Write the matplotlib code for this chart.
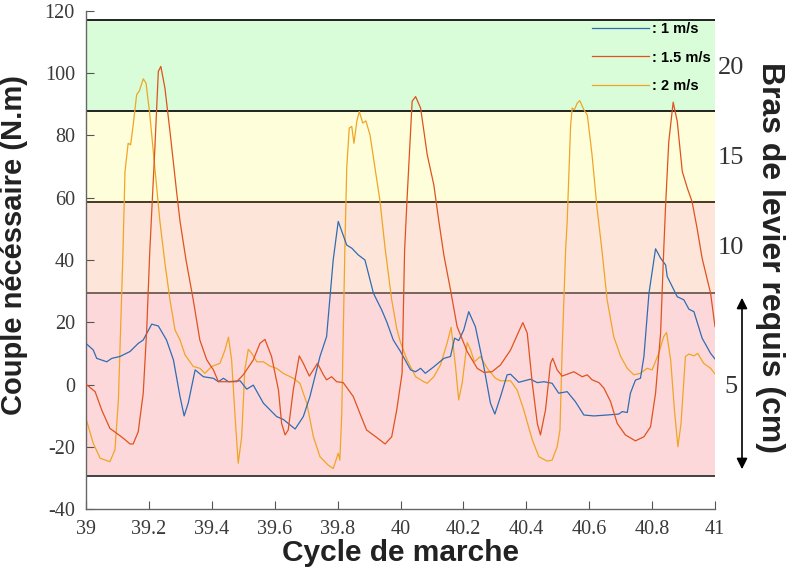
import matplotlib.pyplot as plt
from matplotlib.ticker import FixedLocator

# couple nécessaire sur deux cycles de marche, trois vitesses
x_1 = [39.000, 39.023, 39.034, 39.066, 39.082, 39.108, 39.140, 39.166, 39.182, 39.209,
       39.230, 39.256, 39.278, 39.299, 39.312, 39.325, 39.347, 39.373, 39.405, 39.421,
       39.437, 39.453, 39.490, 39.511, 39.532, 39.564, 39.606, 39.627, 39.665, 39.691,
       39.712, 39.744, 39.765, 39.786, 39.802, 39.829, 39.845, 39.866, 39.887, 39.914,
       39.940, 39.956, 39.977, 40.000, 40.032, 40.048, 40.064, 40.079, 40.106, 40.138,
       40.159, 40.172, 40.185, 40.201, 40.217, 40.238, 40.265, 40.286, 40.300, 40.318,
       40.339, 40.350, 40.376, 40.413, 40.435, 40.456, 40.482, 40.503, 40.530, 40.556,
       40.583, 40.615, 40.657, 40.694, 40.705, 40.721, 40.731, 40.747, 40.763, 40.774,
       40.790, 40.811, 40.827, 40.843, 40.848, 40.880, 40.901, 40.917, 40.933, 40.959,
       40.986, 41.000]
y_1 = [13.2, 11.1, 8.4, 7.3, 8.4, 9.0, 10.6, 13.2, 14.3, 19.4,
       18.8, 14.3, 7.9, -3.9, -10.1, -6.0, 4.7, 2.5, 2.0, 0.9,
       2.0, 0.9, 1.2, -1.5, -0.2, -6.0, -10.3, -11.2, -14.3, -10.3,
       -3.9, 9.0, 15.4, 40.0, 52.4, 44.8, 43.8, 41.6, 40.0, 29.3,
       24.0, 20.2, 14.3, 10.6, 4.7, 4.1, 5.2, 3.6, 5.7, 8.4,
       9.0, 14.9, 14.1, 17.5, 23.4, 18.6, 5.7, -6.0, -9.5, -3.9,
       3.1, 3.3, 0.7, 1.7, 0.6, 0.9, 0.4, -2.8, -2.3, -5.5,
       -9.8, -10.1, -9.8, -9.5, -8.7, -9.0, -2.8, 1.4, 2.0, 9.0,
       29.3, 43.6, 40.6, 38.4, 34.7, 28.2, 27.2, 24.2, 23.4, 14.9,
       10.0, 8.2]

x_15 = [39.000, 39.029, 39.050, 39.076, 39.098, 39.119, 39.140, 39.150, 39.166, 39.182,
        39.193, 39.203, 39.219, 39.230, 39.238, 39.251, 39.267, 39.288, 39.299, 39.318,
        39.341, 39.362, 39.384, 39.405, 39.421, 39.447, 39.479, 39.500, 39.532, 39.553,
        39.569, 39.590, 39.612, 39.622, 39.633, 39.643, 39.659, 39.678, 39.691, 39.710,
        39.723, 39.736, 39.755, 39.765, 39.781, 39.797, 39.818, 39.850, 39.871, 39.892,
        39.924, 39.951, 39.972, 39.988, 40.005, 40.013, 40.021, 40.037, 40.048, 40.064,
        40.085, 40.106, 40.122, 40.138, 40.159, 40.180, 40.212, 40.244, 40.265, 40.291,
        40.318, 40.350, 40.376, 40.389, 40.403, 40.419, 40.435, 40.445, 40.461, 40.477,
        40.484, 40.498, 40.514, 40.551, 40.578, 40.594, 40.609, 40.631, 40.647, 40.668,
        40.689, 40.715, 40.747, 40.774, 40.795, 40.811, 40.827, 40.837, 40.843, 40.853,
        40.867, 40.880, 40.896, 40.912, 40.927, 40.943, 40.959, 40.986, 41.000]
y_15 = [0.1, -2.3, -8.2, -14.1, -15.7, -17.3, -19.1, -19.1, -15.2, -2.8,
        17.5, 43.2, 76.0, 100.6, 102.2, 95.2, 81.3, 62.0, 52.4, 40.0,
        27.2, 14.3, 7.9, 4.7, 0.9, 0.9, 0.9, 3.1, 7.9, 13.2,
        14.5, 9.0, -1.8, -12.5, -16.2, -14.6, -1.8, 9.2, 6.8, 2.7,
        4.7, 6.8, 3.1, 1.5, 2.5, 0.9, 0.6, -3.9, -9.3, -14.6,
        -17.0, -19.1, -16.8, -8.2, 3.6, 43.0, 59.9, 91.0, 92.5, 88.8,
        73.8, 64.1, 52.4, 41.5, 30.4, 18.6, 10.6, 5.2, 3.9, 4.1,
        6.3, 11.1, 17.0, 19.9, 16.5, 0.4, -12.5, -16.2, -8.2, 6.8,
        8.4, 4.7, 2.7, 4.1, 2.5, 3.1, 1.5, 0.6, -1.2, -5.5,
        -12.5, -16.2, -18.1, -16.8, -13.6, -2.8, 16.5, 43.2, 57.7, 78.0,
        90.7, 84.5, 68.4, 63.1, 58.8, 50.2, 40.6, 29.3, 18.6]

x_2 = [39.000, 39.023, 39.045, 39.076, 39.092, 39.103, 39.117, 39.124, 39.134, 39.142,
       39.150, 39.161, 39.170, 39.182, 39.191, 39.203, 39.219, 39.235, 39.251, 39.267,
       39.283, 39.299, 39.315, 39.341, 39.362, 39.378, 39.400, 39.426, 39.442, 39.453,
       39.463, 39.474, 39.484, 39.495, 39.505, 39.516, 39.527, 39.543, 39.564, 39.585,
       39.606, 39.627, 39.659, 39.680, 39.702, 39.723, 39.744, 39.770, 39.786, 39.802,
       39.807, 39.813, 39.823, 39.829, 39.837, 39.845, 39.852, 39.861, 39.869, 39.880,
       39.890, 39.903, 39.919, 39.935, 39.951, 39.972, 39.988, 40.000, 40.021, 40.048,
       40.074, 40.085, 40.106, 40.127, 40.148, 40.161, 40.175, 40.185, 40.196, 40.212,
       40.223, 40.235, 40.254, 40.276, 40.302, 40.318, 40.350, 40.371, 40.392, 40.419,
       40.440, 40.466, 40.482, 40.498, 40.507, 40.514, 40.525, 40.530, 40.541, 40.546,
       40.553, 40.562, 40.570, 40.583, 40.594, 40.609, 40.625, 40.641, 40.657, 40.678,
       40.700, 40.721, 40.742, 40.763, 40.784, 40.800, 40.821, 40.837, 40.846, 40.859,
       40.871, 40.882, 40.892, 40.906, 40.917, 40.933, 40.945, 40.964, 40.986, 41.000]
y_2 = [-10.9, -18.9, -23.7, -24.8, -21.0, -5.0, 40.6, 68.4, 77.5, 77.0,
       83.4, 93.1, 94.4, 98.2, 96.8, 86.6, 69.5, 52.4, 39.0, 27.2,
       17.5, 14.3, 9.5, 5.8, 5.2, 3.6, 5.8, 6.8, 11.1, 15.2,
       7.9, -10.3, -25.3, -16.8, 4.7, 11.3, 10.0, 7.3, 7.3, 5.9,
       5.2, 3.6, 2.0, 0.4, -6.0, -16.8, -23.2, -25.9, -27.0, -22.1,
       -24.3, -10.3, 43.2, 69.5, 82.4, 82.9, 77.5, 84.5, 87.7, 84.0,
       84.7, 80.2, 69.5, 58.8, 43.8, 27.2, 18.0, 13.5, 7.9, 2.5,
       0.9, 0.4, 2.5, 6.3, 13.2, 18.4, 5.7, -5.0, 0.4, 13.5,
       11.1, 7.3, 9.0, 5.2, 2.0, 1.2, 1.2, -1.8, -8.2, -17.8,
       -23.2, -24.6, -24.3, -20.0, -14.6, 11.1, 43.2, 52.4, 83.4, 88.8,
       88.3, 90.4, 91.2, 88.3, 86.6, 73.8, 56.6, 42.7, 27.2, 15.4,
       9.0, 5.2, 3.1, 3.6, 5.2, 4.7, 10.0, 15.4, 16.7, 7.9,
       -8.2, -20.0, -12.5, 9.0, 9.8, 9.2, 10.0, 6.8, 5.2, 3.4]

# zones de couple (limites) et couleurs de fond
band_edges = [-29.3, 29.3, 58.6, 87.9, 117.2]
band_colors = ['#fdd8da', '#fde6d9', '#fffedb', '#d8fdd8']
edge_colors = ['#333333', '#6b5a55', '#3a2a10', '#111111', '#111111']

# échelle de droite : bras de levier (cm)
lever_labels = ['20', '15', '10', '5']
lever_pos = [68, 158, 248, 387]   # pixels depuis le haut

fig = plt.figure(figsize=(7.87, 5.73), dpi=100)
ax = fig.add_axes([86 / 787, 1 - 509 / 573, 629 / 787, 498 / 573])

for lo, hi, c in zip(band_edges[:-1], band_edges[1:], band_colors):
    ax.axhspan(lo, hi, color=c, lw=0, zorder=0)
for yv, c in zip(band_edges, edge_colors):
    ax.axhline(yv, color=c, lw=1.3, zorder=1)

ax.plot(x_1, y_1, color='#2e6db4', lw=0.9, label=': 1 m/s', zorder=3)
ax.plot(x_15, y_15, color='#e0521f', lw=0.9, label=': 1.5 m/s', zorder=3)
ax.plot(x_2, y_2, color='#f0a524', lw=0.9, label=': 2 m/s', zorder=2)

ax.set_xlim(39, 41)
ax.set_ylim(-40, 120)
xt = [39 + 0.2 * i for i in range(11)]
ax.xaxis.set_major_locator(FixedLocator(xt))
ax.set_xticklabels(['39', '39.2', '39.4', '39.6', '39.8', '40',
                    '40.2', '40.4', '40.6', '40.8', '41'])
yt = list(range(-40, 121, 20))
ax.yaxis.set_major_locator(FixedLocator(yt))
ax.set_yticklabels([str(v) for v in yt])
ax.tick_params(direction='in', length=6, width=0.8, color='#555555',
               labelcolor='#3a3a3a', labelsize=14.5, pad=8)
for lab in ax.get_xticklabels() + ax.get_yticklabels():
    lab.set_family('Liberation Serif')
for s in ['top', 'right']:
    ax.spines[s].set_visible(False)
for s in ['left', 'bottom']:
    ax.spines[s].set_color('#666666')
    ax.spines[s].set_linewidth(1.0)

ax.set_xlabel('Cycle de marche', fontsize=21.5, fontweight='bold',
              family='Liberation Sans', color='#222222', labelpad=0)
ax.set_ylabel('Couple nécéssaire (N.m)', fontsize=21, fontweight='bold',
              family='Liberation Sans', color='#222222')
ax.yaxis.set_label_coords(-0.092, 0.53)

for t, py in zip(lever_labels, lever_pos):
    fig.text(731 / 787, 1 - py / 573, t, ha='center', va='center',
             fontsize=19, family='Liberation Serif', color='#333333')
fig.text(770 / 787, 1 - 258 / 573, 'Bras de levier requis (cm)', rotation=-90,
         ha='center', va='center', fontsize=23, fontweight='bold',
         family='Liberation Sans', color='#222222')
ax.annotate('', xy=(742 / 787, 1 - 472 / 573), xytext=(742 / 787, 1 - 295 / 573),
            xycoords='figure fraction', textcoords='figure fraction',
            arrowprops=dict(arrowstyle='<|-|>', color='black', lw=1.2,
                            mutation_scale=16), annotation_clip=False)

ax.legend(loc='upper left', bbox_to_anchor=(592 / 787, 1 - 22 / 573),
          bbox_transform=fig.transFigure, frameon=False, borderpad=0,
          borderaxespad=0, handlelength=3.9, handletextpad=0.2,
          labelspacing=1.0,
          prop={'weight': 'bold', 'size': 10.5, 'family': 'Liberation Sans'})

fig.savefig('out.png', dpi=100)
